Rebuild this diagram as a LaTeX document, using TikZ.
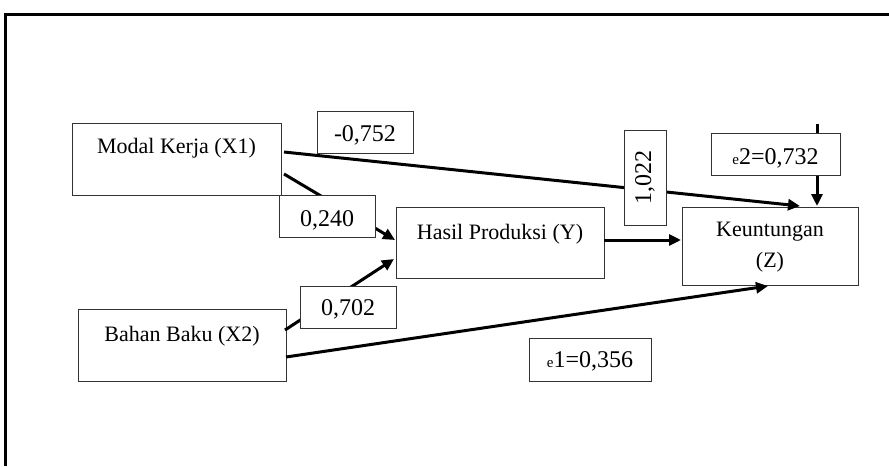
\documentclass[tikz,border=0pt]{standalone}
\usepackage{fontspec}
\setmainfont{Liberation Serif}
\usetikzlibrary{arrows.meta,calc}
\newcommand{\smalle}{{\fontsize{15}{15}\selectfont e}}
\begin{document}
\begin{tikzpicture}[x=1pt,y=-1pt,
  box/.style={draw=black!80, line width=1.2pt, fill=white, inner sep=0pt, anchor=north west},
  txt/.style={font=\fontsize{22}{26}\selectfont, inner sep=0pt, anchor=base},
  num/.style={font=\fontsize{24}{28}\selectfont, inner sep=0pt, anchor=base},
  arr/.style={line width=3pt, -{Triangle[length=12pt,width=11pt]}}]
\useasboundingbox (0,0) rectangle (889,466);
% outer frame
\draw[line width=3.5pt] (5.5,466) -- (5.5,14.5) -- (889,14.5);
% main boxes
\node[box, minimum width=209pt, minimum height=72pt] (x1) at (72,123) {};
\node[box, minimum width=208pt, minimum height=71pt] (y) at (396,207) {};
\node[box, minimum width=176pt, minimum height=78pt] (z) at (682,207) {};
\node[box, minimum width=208pt, minimum height=72pt] (x2) at (78,309) {};
\node[txt] (x1t) at (176.5,153) {Modal Kerja (X1)};
\node[txt] (x2t) at (182,341) {Bahan Baku (X2)};
\node[txt] (yt) at (500,239) {Hasil Produksi (Y)};
\node[txt] (zt1) at (770,236) {Keuntungan};
\node[txt] (zt2) at (770,267) {(Z)};
% connector end points
\coordinate (a1s) at (284,152);
\coordinate (a1e) at (800,206);
\coordinate (a2s) at (284,174);
\coordinate (a2e) at (395,240);
\coordinate (a3s) at (285,330);
\coordinate (a3e) at (394,259);
\coordinate (a4s) at (286,357);
\coordinate (a4e) at (768,286);
\coordinate (a5s) at (604,240);
\coordinate (a5e) at (681,240);
\coordinate (e2top) at (817,124);
\coordinate (a6e) at (817,206);
% connectors
\draw[arr] (a1s) -- (a1e);
\draw[arr] (a2s) -- (a2e);
\draw[arr] (a3s) -- (a3e);
\draw[arr] (a4s) -- (a4e);
\draw[arr] (a5s) -- (a5e);
\draw[arr] (e2top) -- (a6e);
% coefficient boxes
\node[box, minimum width=96pt, minimum height=42pt] (l752) at (317,111) {};
\node[box, minimum width=96pt, minimum height=42pt] (l240) at (279,195) {};
\node[box, minimum width=96pt, minimum height=42pt] (l702) at (300,286) {};
\node[box, minimum width=42pt, minimum height=95pt] (l022) at (624,130) {};
\node[box, minimum width=129pt, minimum height=42pt] (le2) at (711,133) {};
\node[box, minimum width=122pt, minimum height=43pt] (le1) at (529,338) {};
\node[num] (t752) at (365,141) {-0,752};
\node[num] (t240) at (327,226) {0,240};
\node[num] (t702) at (348,315) {0,702};
\node[num, anchor=center, rotate=90] (t022) at (645,177.5) {1,022};
\node[num] (te2) at (775.5,164) {\smalle2=0,732};
\node[num] (te1) at (590,367) {\smalle1=0,356};
\end{tikzpicture}
\end{document}
